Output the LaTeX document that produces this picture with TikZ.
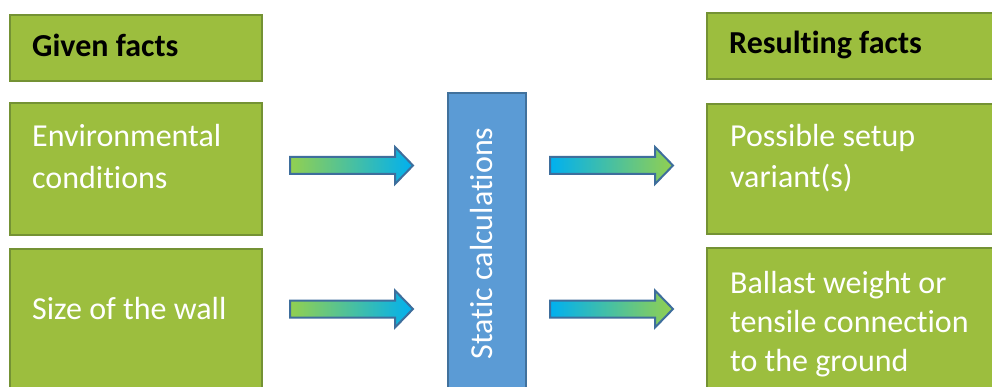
\documentclass[tikz,border=0pt]{standalone}
\usepackage{fontspec}
\setmainfont{Carlito}[Ligatures=NoCommon]
\definecolor{boxgreen}{RGB}{156,190,62}
\definecolor{boxedge}{RGB}{116,146,52}
\definecolor{calcblue}{RGB}{91,155,213}
\definecolor{calcedge}{RGB}{65,113,156}
\definecolor{arrgreen}{RGB}{146,208,80}
\definecolor{arrcyan}{RGB}{0,176,240}
\definecolor{arredge}{RGB}{62,110,156}
\tikzset{
  gbox/.style={draw=boxedge, fill=boxgreen, line width=2.5pt, inner sep=0pt},
  cbox/.style={draw=calcedge, fill=calcblue, line width=2.5pt, inner sep=0pt},
  txt/.style={inner sep=0pt, anchor=base west, align=left, text=white},
  hdr/.style={inner sep=0pt, anchor=base west, text=black, font=\fontsize{32}{40}\selectfont\bfseries},
  arrowin/.style={draw=arredge, line width=2pt, line join=miter, left color=arrgreen, right color=arrcyan},
  arrowout/.style={draw=arredge, line width=2pt, line join=miter, left color=arrcyan, right color=arrgreen},
}
\begin{document}
\begin{tikzpicture}[x=1pt, y=-1pt]
\useasboundingbox (0,0) rectangle (992,387);
\clip (0,0) rectangle (992,387);
\fill[white] (0,0) rectangle (992,387);
% boxes
\node[gbox, minimum width=252, minimum height=66] (given) at (136,48) {};
\node[gbox, minimum width=252, minimum height=132] (env) at (136,169) {};
\node[gbox, minimum width=252, minimum height=171] (size) at (136,334.5) {};
\node[gbox, minimum width=303, minimum height=66] (result) at (858.5,46) {};
\node[gbox, minimum width=303, minimum height=130] (poss) at (858.5,169) {};
\node[gbox, minimum width=303, minimum height=172] (ballast) at (858.5,334) {};
\node[cbox, minimum width=78, minimum height=327] (calc) at (487,256.5) {};
% texts (base anchor = last line's baseline)
\node[hdr] (givent) at (32,57) {Given facts};
\node[hdr] (resultt) at (729,54) {Resulting facts};
\node[txt, font=\fontsize{32}{41.5}\selectfont] (envt) at (32,188.5) {Environmental\\conditions};
\node[txt, font=\fontsize{32}{40}\selectfont] (sizet) at (32,319) {Size of the wall};
\node[txt, font=\fontsize{32}{41}\selectfont] (posst) at (730,188) {Possible setup\\variant(s)};
\node[txt, font=\fontsize{32}{39}\selectfont] (ballastt) at (730,371) {Ballast weight or\\tensile connection\\to the ground};
\node[inner sep=0pt, anchor=base, rotate=90, text=white, font=\fontsize{32}{40}\selectfont] (calct) at (492,243.5) {Static calculations};
% block arrows
\path[arrowin] (290,157) -- (395,157) -- (395,147) -- (413,165.5) -- (395,184) -- (395,174) -- (290,174) -- cycle;
\path[arrowin] (290,300.5) -- (395,300.5) -- (395,290.5) -- (413,309) -- (395,327.5) -- (395,317.5) -- (290,317.5) -- cycle;
\path[arrowout] (550,157) -- (655,157) -- (655,147) -- (673,165.5) -- (655,184) -- (655,174) -- (550,174) -- cycle;
\path[arrowout] (550,300.5) -- (655,300.5) -- (655,290.5) -- (673,309) -- (655,327.5) -- (655,317.5) -- (550,317.5) -- cycle;
\end{tikzpicture}
\end{document}
